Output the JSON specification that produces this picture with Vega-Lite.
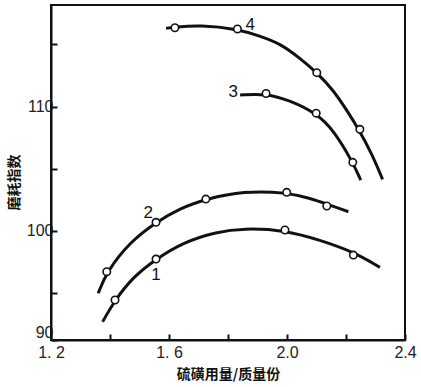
{
  "$schema": "https://vega.github.io/schema/vega-lite/v6.json",
  "width": 354,
  "height": 335,
  "autosize": "none",
  "padding": {"left": 51, "top": 5, "right": 16, "bottom": 47},
  "background": "white",
  "config": {
    "view": {"stroke": "#111", "strokeWidth": 2},
    "axis": {
      "grid": false,
      "domainColor": "#111",
      "domainWidth": 2,
      "tickColor": "#111",
      "tickWidth": 2,
      "tickSize": -6,
      "labelFont": "Liberation Sans",
      "labelFontSize": 16,
      "labelColor": "#222",
      "titleFont": "Noto Sans CJK SC",
      "titleFontSize": 14,
      "titleFontWeight": "bold",
      "titleColor": "#111"
    }
  },
  "datasets": {
    "lines": [
      {"curve": "4", "x": 1.590, "y": 116.30},
      {"curve": "4", "x": 1.620, "y": 116.40},
      {"curve": "4", "x": 1.705, "y": 116.57},
      {"curve": "4", "x": 1.832, "y": 116.25},
      {"curve": "4", "x": 1.908, "y": 115.68},
      {"curve": "4", "x": 1.976, "y": 115.09},
      {"curve": "4", "x": 2.044, "y": 113.89},
      {"curve": "4", "x": 2.101, "y": 112.73},
      {"curve": "4", "x": 2.157, "y": 111.33},
      {"curve": "4", "x": 2.202, "y": 109.72},
      {"curve": "4", "x": 2.240, "y": 108.30},
      {"curve": "4", "x": 2.287, "y": 106.23},
      {"curve": "4", "x": 2.324, "y": 104.14},
      {"curve": "3", "x": 1.841, "y": 110.93},
      {"curve": "3", "x": 1.929, "y": 111.05},
      {"curve": "3", "x": 2.010, "y": 110.50},
      {"curve": "3", "x": 2.099, "y": 109.47},
      {"curve": "3", "x": 2.157, "y": 108.13},
      {"curve": "3", "x": 2.223, "y": 105.51},
      {"curve": "3", "x": 2.250, "y": 104.08},
      {"curve": "2", "x": 1.360, "y": 94.96},
      {"curve": "2", "x": 1.389, "y": 96.70},
      {"curve": "2", "x": 1.468, "y": 99.11},
      {"curve": "2", "x": 1.556, "y": 100.68},
      {"curve": "2", "x": 1.637, "y": 101.80},
      {"curve": "2", "x": 1.725, "y": 102.55},
      {"curve": "2", "x": 1.852, "y": 103.20},
      {"curve": "2", "x": 1.999, "y": 103.09},
      {"curve": "2", "x": 2.078, "y": 102.61},
      {"curve": "2", "x": 2.135, "y": 102.15},
      {"curve": "2", "x": 2.208, "y": 101.53},
      {"curve": "1", "x": 1.375, "y": 92.67},
      {"curve": "1", "x": 1.417, "y": 94.42},
      {"curve": "1", "x": 1.479, "y": 96.30},
      {"curve": "1", "x": 1.556, "y": 97.72},
      {"curve": "1", "x": 1.648, "y": 99.07},
      {"curve": "1", "x": 1.762, "y": 99.92},
      {"curve": "1", "x": 1.852, "y": 100.19},
      {"curve": "1", "x": 1.993, "y": 100.06},
      {"curve": "1", "x": 2.112, "y": 99.25},
      {"curve": "1", "x": 2.225, "y": 98.31},
      {"curve": "1", "x": 2.315, "y": 97.05}
    ],
    "points": [
      {"curve": "4", "x": 1.620, "y": 116.35},
      {"curve": "4", "x": 1.832, "y": 116.25},
      {"curve": "4", "x": 2.101, "y": 112.73},
      {"curve": "4", "x": 2.247, "y": 108.17},
      {"curve": "3", "x": 1.929, "y": 111.05},
      {"curve": "3", "x": 2.099, "y": 109.47},
      {"curve": "3", "x": 2.223, "y": 105.51},
      {"curve": "2", "x": 1.389, "y": 96.70},
      {"curve": "2", "x": 1.556, "y": 100.68},
      {"curve": "2", "x": 1.725, "y": 102.55},
      {"curve": "2", "x": 1.999, "y": 103.09},
      {"curve": "2", "x": 2.135, "y": 101.99},
      {"curve": "1", "x": 1.417, "y": 94.42},
      {"curve": "1", "x": 1.556, "y": 97.72},
      {"curve": "1", "x": 1.993, "y": 100.06},
      {"curve": "1", "x": 2.225, "y": 98.04}
    ],
    "labels": [
      {"label": "4", "x": 1.875, "y": 116.57},
      {"label": "3", "x": 1.818, "y": 111.20},
      {"label": "2", "x": 1.530, "y": 101.40},
      {"label": "1", "x": 1.556, "y": 96.43}
    ]
  },
  "encoding": {
    "x": {
      "field": "x",
      "type": "quantitative",
      "scale": {"domain": [1.2, 2.4], "nice": false, "zero": false},
      "axis": {
        "title": "硫磺用量/质量份",
        "values": [1.2, 1.4, 1.6, 1.8, 2.0, 2.2, 2.4],
        "labelExpr": "abs(datum.value-1.2)<0.01 ? '1. 2' : abs(datum.value-1.6)<0.01 ? '1. 6' : abs(datum.value-2.0)<0.01 ? '2.0' : abs(datum.value-2.4)<0.01 ? '2.4' : ''",
        "labelFlush": false,
        "labelPadding": 10,
        "titleX": 177,
        "titleY": 34,
        "titleBaseline": "middle",
        "titleAlign": "center"
      }
    },
    "y": {
      "field": "y",
      "type": "quantitative",
      "scale": {"domain": [91.2, 118.18], "nice": false, "zero": false},
      "axis": {
        "title": "磨耗指数",
        "values": [91.2, 95, 100, 105, 110, 115],
        "labelExpr": "datum.value < 92 ? '90' : datum.value == 100 ? '100' : datum.value == 110 ? '110' : ''",
        "labelFlush": true,
        "labelPadding": 4,
        "titleX": -37,
        "titleY": 177,
        "titleAngle": -90,
        "titleBaseline": "middle",
        "titleAlign": "center"
      }
    }
  },
  "layer": [
    {
      "data": {"name": "lines"},
      "mark": {"type": "line", "interpolate": "basis", "color": "#111", "strokeWidth": 3},
      "encoding": {"detail": {"field": "curve", "type": "nominal"}}
    },
    {
      "data": {"name": "points"},
      "mark": {"type": "point", "shape": "circle", "size": 55, "filled": true, "fill": "white", "stroke": "#111", "strokeWidth": 1.6, "opacity": 1}
    },
    {
      "data": {"name": "labels"},
      "mark": {"type": "text", "font": "Liberation Sans", "fontSize": 17, "color": "#111", "align": "center", "baseline": "middle"},
      "encoding": {"text": {"field": "label", "type": "nominal"}}
    }
  ]
}
